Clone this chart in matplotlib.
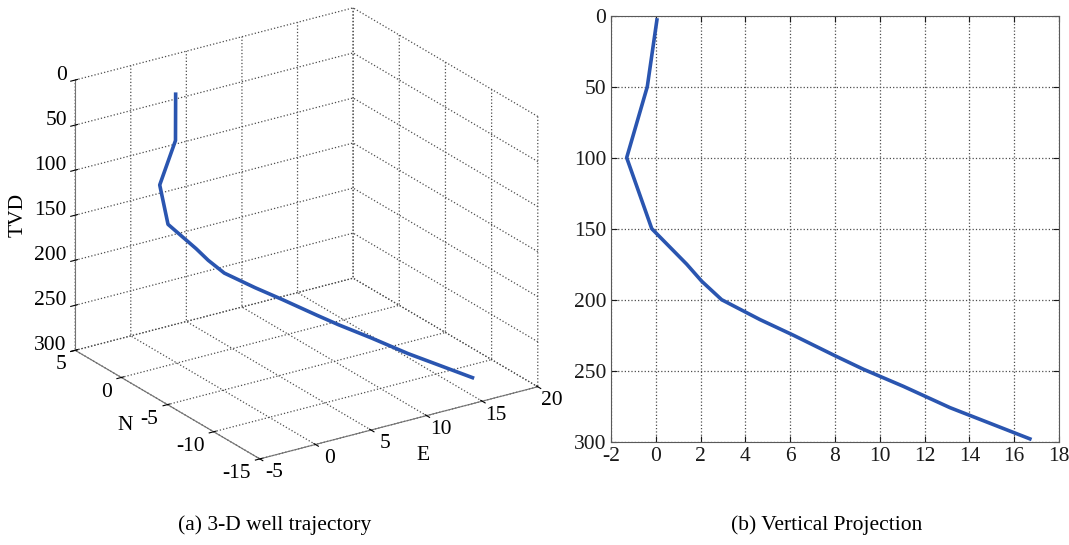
import matplotlib
matplotlib.use("Agg")
import matplotlib.pyplot as plt
from matplotlib.transforms import offset_copy
from mpl_toolkits.mplot3d import proj3d

# ---- data ----
tvd = [3, 50, 100, 150, 175, 187, 200, 214, 225, 240, 249, 261, 276, 298]
east = [0.05, -0.38, -1.30, -0.18, 1.38, 2.05, 2.94, 4.65, 6.14, 8.07, 9.27, 11.05, 13.13, 16.70]
north = [0.2, -0.3, 0.3, 0.75, -0.42, -0.92, -1.59, -2.87, -3.99, -5.44, -6.34, -7.67, -9.23, -11.9]

e_ticks = [-5, 0, 5, 10, 15, 20]
n_ticks = [-15, -10, -5, 0, 5]
tvd_ticks = [0, 50, 100, 150, 200, 250, 300]
proj_ticks = [-2, 0, 2, 4, 6, 8, 10, 12, 14, 16, 18]

line_color = "#2a55b0"
fs = 15.5
plt.rcParams["font.family"] = ["Liberation Serif", "DejaVu Serif"]
plt.rcParams["axes.unicode_minus"] = False
plt.rcParams["grid.linestyle"] = ":"
plt.rcParams["grid.color"] = "0.3"
plt.rcParams["grid.linewidth"] = 0.9

fig = plt.figure(figsize=(10.69, 5.45), dpi=100)

# ---- (a) 3-D trajectory ----
ax3 = fig.add_axes([0.0055, 0.1096, 0.55, 0.9], projection="3d")
ax3.set_proj_type("ortho")
ax3.plot(east, north, tvd, color=line_color, lw=2.6)
e_lo, e_hi = min(e_ticks), max(e_ticks)
n_lo, n_hi = min(n_ticks), max(n_ticks)
t_top, t_bot = min(tvd_ticks), max(tvd_ticks)
ax3.set_xlim(e_lo, e_hi)
ax3.set_ylim(n_lo, n_hi)
ax3.set_zlim(t_bot, t_top)
ax3.set_xticks(e_ticks)
ax3.set_yticks(n_ticks)
ax3.set_zticks(tvd_ticks)
ax3.view_init(elev=23, azim=-123.6)
ax3.set_box_aspect((1, 1, 0.88), zoom=1.1)
for axis in (ax3.xaxis, ax3.yaxis, ax3.zaxis):
    axis.set_pane_color((1, 1, 1, 0))
    axis.pane.set_edgecolor((1, 1, 1, 0))
    axis._axinfo["grid"].update(color="0.3", linestyle=":", linewidth=0.9)
    axis.line.set_color("0.45")
    axis.set_tick_params(labelbottom=False, labeltop=False)

# tick labels placed MATLAB-style next to the axis lines (projected by mplot3d)
fig.canvas.draw()
M = ax3.get_proj()


def place(x, y, z, s, tr, **kw):
    px, py, _ = proj3d.proj_transform(x, y, z, M)
    ax3.text2D(px, py, s, transform=tr, fontsize=fs, **kw)


tr_z = offset_copy(ax3.transData, fig=fig, x=-6, y=3.5, units="points")
for t in tvd_ticks:
    place(e_lo, n_hi, t, str(t), tr_z, ha="right", va="center")
tr_n = offset_copy(ax3.transData, fig=fig, x=-6.5, y=-10.5, units="points")
for n in n_ticks:
    place(e_lo, n, t_bot, str(n), tr_n, ha="right", va="center")
tr_e = offset_copy(ax3.transData, fig=fig, x=10, y=-10, units="points")
for e in e_ticks:
    place(e, n_lo, t_bot, str(e), tr_e, ha="center", va="center")

fig.text(18 / 1069, 1 - 215 / 545, "TVD", rotation=90, ha="center", va="center", fontsize=fs)
fig.text(125 / 1069, 1 - 425 / 545, "N", ha="center", va="center", fontsize=fs)
fig.text(423 / 1069, 1 - 455 / 545, "E", ha="center", va="center", fontsize=fs)

# ---- (b) vertical projection ----
ax2 = fig.add_axes([611 / 1069, 1 - 441.7 / 545, 448 / 1069, 426 / 545])
ax2.plot(east, tvd, color=line_color, lw=2.6)
ax2.set_xlim(-2, 18)
ax2.set_ylim(300, 0)
ax2.set_xticks(proj_ticks)
ax2.set_yticks(tvd_ticks)
ax2.grid(True, linestyle=":", color="0.3", linewidth=0.9)
ax2.tick_params(direction="in", top=True, right=True, labelsize=fs, length=4, colors="0.1")
for s in ax2.spines.values():
    s.set_color("0.35")

fig.text(275 / 1069, 1 - 525 / 545, "(a) 3-D well trajectory", ha="center", va="center", fontsize=fs)
fig.text(827 / 1069, 1 - 525 / 545, "(b) Vertical Projection", ha="center", va="center", fontsize=fs)

fig.savefig("out.png", dpi=100)
